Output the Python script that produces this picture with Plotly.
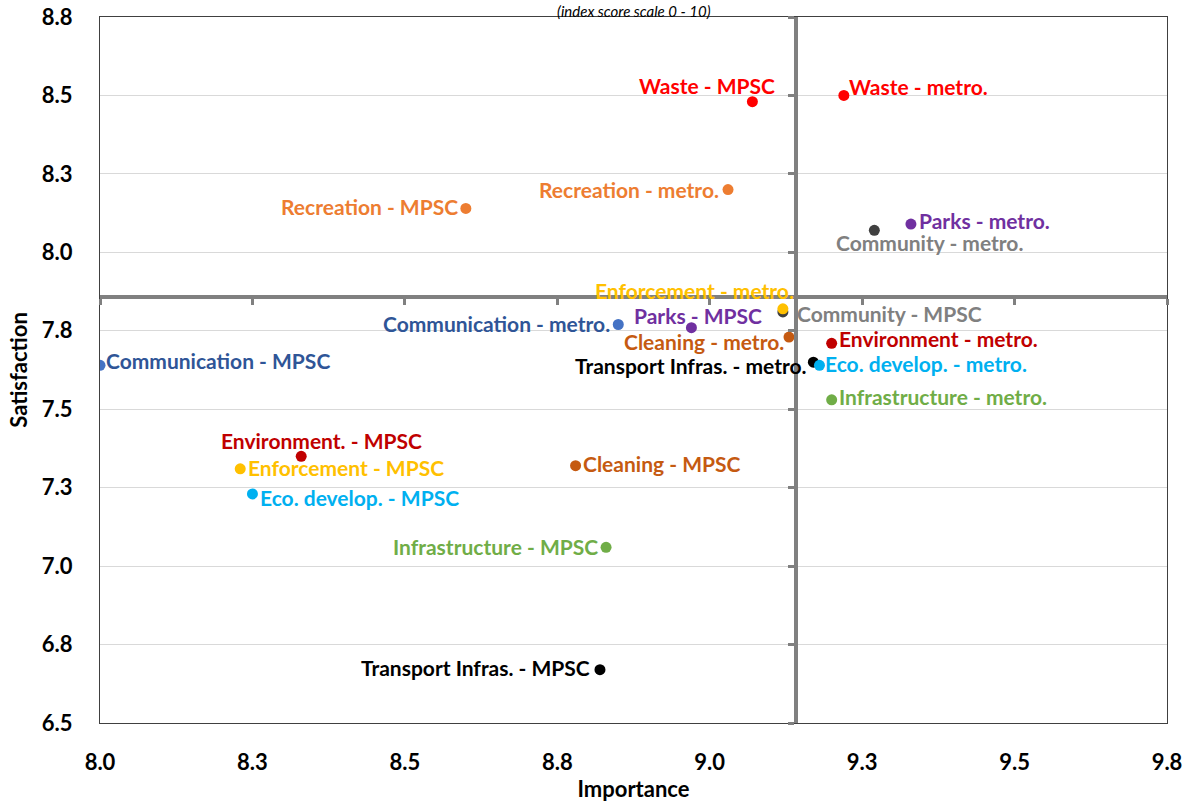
import plotly.graph_objects as go

# data
names = [
    "Waste - MPSC", "Waste - metro.", "Recreation - metro.", "Recreation - MPSC",
    "Parks - metro.", "Community - metro.", "Community - MPSC", "Enforcement - metro.",
    "Communication - metro.", "Parks - MPSC", "Cleaning - metro.", "Environment - metro.",
    "Transport Infras. - metro.", "Eco. develop. - metro.", "Communication - MPSC",
    "Infrastructure - metro.", "Environment. - MPSC", "Enforcement - MPSC",
    "Cleaning - MPSC", "Eco. develop. - MPSC", "Infrastructure - MPSC",
    "Transport Infras. - MPSC",
]
importance = [9.07, 9.22, 9.03, 8.60, 9.33, 9.27, 9.12, 9.12, 8.85, 8.97, 9.13, 9.20,
              9.17, 9.18, 8.00, 9.20, 8.33, 8.23, 8.78, 8.25, 8.83, 8.82]
satisfaction = [8.48, 8.50, 8.20, 8.14, 8.09, 8.07, 7.81, 7.82, 7.77, 7.76, 7.73, 7.71,
                7.65, 7.64, 7.64, 7.53, 7.35, 7.31, 7.32, 7.23, 7.06, 6.67]
point_colors = ["#FF0000", "#FF0000", "#ED7D31", "#ED7D31", "#7030A0", "#404040", "#404040",
                "#FFC000", "#4472C4", "#7030A0", "#C55A11", "#C00000", "#000000", "#00B0F0",
                "#4472C4", "#70AD47", "#C00000", "#FFC000", "#C55A11", "#00B0F0", "#70AD47",
                "#000000"]
label_colors = ["#FF0000", "#FF0000", "#ED7D31", "#ED7D31", "#7030A0", "#808080", "#808080",
                "#FFC000", "#2F5597", "#7030A0", "#C55A11", "#C00000", "#000000", "#00B0F0",
                "#2F5597", "#70AD47", "#C00000", "#FFC000", "#C55A11", "#00B0F0", "#70AD47",
                "#000000"]

x_ticks = [8.0, 8.25, 8.5, 8.75, 9.0, 9.25, 9.5, 9.75]
x_ticktext = ["8.0", "8.3", "8.5", "8.8", "9.0", "9.3", "9.5", "9.8"]
y_ticks = [6.5, 6.75, 7.0, 7.25, 7.5, 7.75, 8.0, 8.25, 8.5, 8.75]
y_ticktext = ["6.5", "6.8", "7.0", "7.3", "7.5", "7.8", "8.0", "8.3", "8.5", "8.8"]
x_range = [8.0, 9.75]
y_range = [6.5, 8.75]
x_cross = 9.141   # average importance
y_cross = 7.858   # average satisfaction

# label placement (anchor, xshift, yshift)
label_pos = [
    ("right", 25, 16), ("left", 3, 9), ("right", -7, 0), ("right", -6, 2),
    ("left", 6, 4), ("center", 55, -12), ("left", 12, -2), ("right", 13, 18),
    ("right", -6, 1), ("center", 7, 12), ("right", -3, -4), ("left", 5, 5),
    ("right", -4, -3), ("left", 4, 2), ("left", 4, 5), ("left", 5, 3),
    ("center", 20, 16), ("left", 6, 1), ("left", 5, 2), ("left", 6, -4),
    ("right", -6, 1), ("right", -8, 2),
]

FONT = "Lato"
grey = "#808080"

fig = go.Figure()

fig.add_trace(go.Scatter(
    x=importance, y=satisfaction, mode="markers",
    marker=dict(size=11, color=point_colors),
    hovertext=names, hoverinfo="text", showlegend=False
))

# invisible trace so the crossing axes are drawn
fig.add_trace(go.Scatter(
    x=[x_cross], y=[y_cross], mode="markers", marker=dict(opacity=0),
    xaxis="x2", yaxis="y2", showlegend=False, hoverinfo="skip"
))

for name, xv, yv, col, (anchor, dx, dy) in zip(names, importance, satisfaction,
                                              label_colors, label_pos):
    fig.add_annotation(
        x=xv, y=yv, text=name, showarrow=False, xanchor=anchor, yanchor="middle",
        xshift=dx, yshift=dy,
        font=dict(family=FONT, size=21, color=col, weight="bold")
    )

fig.add_annotation(
    x=0.5, y=1, xref="paper", yref="paper", yanchor="top", yshift=17,
    text="<i>(index score scale 0 - 10)</i>", showarrow=False,
    font=dict(family=FONT, size=15, color="#000000")
)

tick_font = dict(family=FONT, size=22, color="#000000", weight="bold")
title_font = dict(family=FONT, size=22, color="#000000", weight="bold")

fig.update_layout(
    width=1194, height=802,
    margin=dict(l=100, r=27, t=17, b=79),
    paper_bgcolor="white", plot_bgcolor="white",
    xaxis=dict(
        range=x_range, tickvals=x_ticks, ticktext=x_ticktext, tickfont=tick_font,
        showgrid=False, zeroline=False, showline=True, linecolor="#404040",
        linewidth=1, mirror=True, ticks="", ticklabelstandoff=20, automargin=False,
        title=dict(text="Importance", font=title_font, standoff=12),
    ),
    yaxis=dict(
        range=y_range, tickvals=y_ticks, ticktext=y_ticktext, tickfont=tick_font,
        showgrid=True, gridcolor="#D9D9D9", gridwidth=1, zeroline=False,
        showline=True, linecolor="#404040", linewidth=1, mirror=True, ticks="",
        ticklabelstandoff=22, automargin=False,
        title=dict(text="Satisfaction", font=title_font, standoff=8),
    ),
    xaxis2=dict(
        range=x_range, overlaying="x", anchor="free",
        position=(y_cross - y_range[0]) / (y_range[1] - y_range[0]),
        tickvals=x_ticks, showticklabels=False, ticks="outside", ticklen=6,
        tickwidth=3, tickcolor=grey, showline=True, linecolor=grey, linewidth=4,
        showgrid=False, zeroline=False, automargin=False,
    ),
    yaxis2=dict(
        range=y_range, overlaying="y", anchor="free", side="left",
        position=(x_cross - x_range[0]) / (x_range[1] - x_range[0]),
        tickvals=y_ticks, showticklabels=False, ticks="outside", ticklen=6,
        tickwidth=3, tickcolor=grey, showline=True, linecolor=grey, linewidth=4,
        showgrid=False, zeroline=False, automargin=False,
    ),
)

# drop the default page margin so the figure sits at the window's corner
fig.write_html("out.html", config={"displayModeBar": False},
               post_script="document.body.style.margin='0';")
